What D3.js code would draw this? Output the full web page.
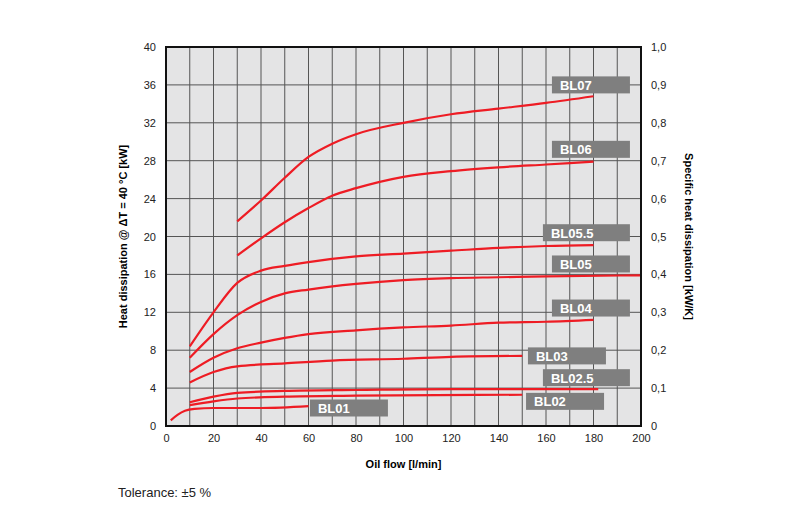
<!DOCTYPE html>
<html><head><meta charset="utf-8">
<script src="https://cdn.jsdelivr.net/npm/d3@7"></script>
<style>body{margin:0;background:#fff;font-family:Arial,"Liberation Sans",sans-serif}</style>
</head><body><svg id="c" width="800" height="530"></svg>
<script>
const xTicks=[0,20,40,60,80,100,120,140,160,180,200];
const yTicks=[0,4,8,12,16,20,24,28,32,36,40];
const yRightTicks=["0","0,1","0,2","0,3","0,4","0,5","0,6","0,7","0,8","0,9","1,0"];
const BL07=[[30,21.6],[40,23.8],[50,26.2],[60,28.4],[70,29.8],[80,30.8],[100,32.0],[120,32.9],[140,33.5],[160,34.1],[180,34.8]];
const BL06=[[30,18.0],[40,19.8],[50,21.5],[60,23.0],[70,24.3],[80,25.1],[100,26.3],[120,26.9],[140,27.3],[160,27.6],[180,27.9]];
const BL055=[[10,8.4],[20,12.0],[30,15.1],[40,16.4],[50,16.9],[60,17.3],[80,17.9],[100,18.2],[120,18.5],[140,18.8],[160,19.0],[180,19.1]];
const BL05=[[10,7.2],[20,9.7],[30,11.7],[40,13.1],[50,14.0],[60,14.4],[80,15.0],[100,15.4],[120,15.6],[140,15.7],[160,15.8],[200,15.9]];
const BL04=[[10,5.7],[20,7.2],[30,8.2],[40,8.8],[50,9.3],[60,9.7],[80,10.1],[100,10.4],[120,10.6],[140,10.9],[160,11.0],[180,11.2]];
const BL03=[[10,4.6],[20,5.7],[30,6.3],[50,6.6],[70,6.9],[100,7.1],[120,7.3],[150,7.4]];
const BL025=[[10,2.5],[20,3.1],[30,3.5],[50,3.7],[80,3.8],[120,3.9],[182,3.9]];
const BL02=[[10,2.2],[20,2.6],[30,2.9],[50,3.1],[80,3.2],[150,3.3]];
const BL01=[[2,0.6],[5,1.2],[8,1.6],[12,1.8],[20,1.9],[40,1.9],[60,2.1]];
const seriesNames=["BL07","BL06","BL05.5","BL05","BL04","BL03","BL02.5","BL02","BL01"];
const seriesData=[BL07,BL06,BL055,BL05,BL04,BL03,BL025,BL02,BL01];
// label anchors [x-left, y-center] in data units
const labelPos=[[162.5,36.0],[162.5,29.2],[158.7,20.4],[162.5,17.1],[162.5,12.45],[152.4,7.4],[158.7,5.1],[151.6,2.6],[60.6,1.9]];
const labelW=[78,78,87,78,78,78,87,78,78];

const svg=d3.select("#c");
const L=166,R=641,T=47,B=426;
const x=d3.scaleLinear().domain([0,200]).range([L,R]);
const y=d3.scaleLinear().domain([0,40]).range([B,T]);
const y2=d3.scalePoint().domain(yRightTicks).range([B,T]);

svg.append("rect").attr("x",L).attr("y",T).attr("width",R-L).attr("height",B-T).attr("fill","#e4e4e5");
const g=svg.append("g");
d3.range(10,200,10).forEach(v=>g.append("line").attr("x1",x(v)).attr("x2",x(v)).attr("y1",T).attr("y2",B).attr("stroke","#555").attr("stroke-width",1));
yTicks.slice(1,-1).forEach(v=>g.append("line").attr("x1",L).attr("x2",R).attr("y1",y(v)).attr("y2",y(v)).attr("stroke","#555").attr("stroke-width",1));

const line=d3.line().x(d=>x(d[0])).y(d=>y(d[1])).curve(d3.curveMonotoneX);
seriesData.forEach(s=>svg.append("path").attr("d",line(s)).attr("fill","none").attr("stroke","#ee1c24").attr("stroke-width",2.2));

seriesNames.forEach((n,i)=>{
  const [lx,ly]=labelPos[i];
  svg.append("rect").attr("x",x(lx)).attr("y",y(ly)-8.5).attr("width",labelW[i]).attr("height",17).attr("fill","#7f7f7f");
  svg.append("text").attr("x",x(lx)+8).attr("y",y(ly)+5).text(n).attr("fill","#fff").attr("font-weight","bold").attr("font-size",13);
});

svg.append("rect").attr("x",L).attr("y",T).attr("width",R-L).attr("height",B-T).attr("fill","none").attr("stroke","#111").attr("stroke-width",2);

const ax=svg.append("g").attr("transform",`translate(0,${B})`).call(d3.axisBottom(x).tickValues(xTicks).tickSize(0).tickPadding(8));
const ay=svg.append("g").attr("transform",`translate(${L},0)`).call(d3.axisLeft(y).tickValues(yTicks).tickSize(0).tickPadding(10));
const ay2=svg.append("g").attr("transform",`translate(${R},0)`).call(d3.axisRight(y2).tickSize(0).tickPadding(10));
[ax,ay,ay2].forEach(a=>{a.select(".domain").remove();a.selectAll("text").attr("font-size",11).attr("fill","#222").attr("font-family","Arial,Liberation Sans,sans-serif");});

svg.append("text").attr("x",(L+R)/2).attr("y",468).attr("text-anchor","middle").attr("font-size",11).attr("font-weight","bold").text("Oil flow [l/min]");
svg.append("text").attr("transform",`translate(127,${(T+B)/2}) rotate(-90)`).attr("text-anchor","middle").attr("font-size",11).attr("font-weight","bold").text("Heat dissipation @ ΔT = 40 °C [kW]");
svg.append("text").attr("transform",`translate(685,${(T+B)/2}) rotate(90)`).attr("text-anchor","middle").attr("font-size",11).attr("font-weight","bold").text("Specific heat dissipation [kW/K]");
svg.append("text").attr("x",118).attr("y",497).attr("font-size",13).attr("fill","#222").text("Tolerance: ±5 %");
</script></body></html>
